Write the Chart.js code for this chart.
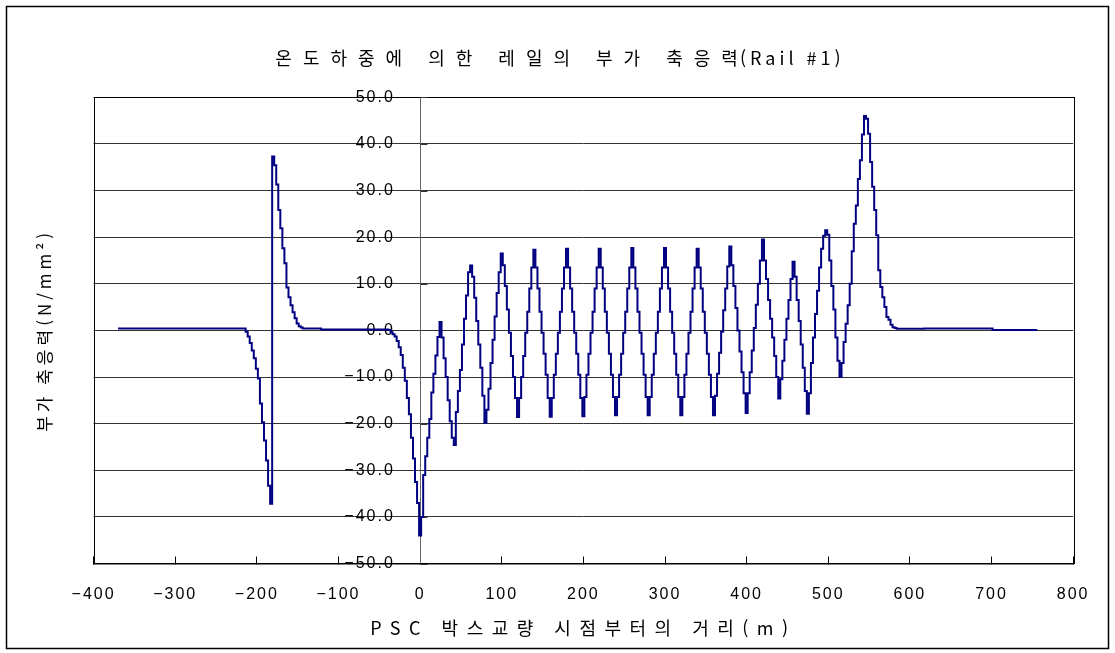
<!DOCTYPE html>
<html lang="ko">
<head>
<meta charset="utf-8">
<title>온도하중에 의한 레일의 부가 축응력(Rail #1)</title>
<script src="https://cdn.jsdelivr.net/npm/chart.js@4.4.1/dist/chart.umd.min.js"></script>
<style>
  html, body { margin: 0; padding: 0; background: #fff; }
  #wrap { position: relative; width: 1115px; height: 653px; }
</style>
</head>
<body>
<div id="wrap"><canvas id="chart" width="1115" height="653"></canvas></div>
<script>
const CHART_TITLE = '온도하중에 의한 레일의 부가 축응력(Rail #1)';
const X_TITLE = 'PSC 박스교량 시점부터의 거리(m)';
const Y_TITLE = '부가 축응력(N/mm²)';

// distance from the start of the PSC box bridge (m)
const distanceM = [
  -370, -300, -250, -215,
  -212.5, -210, -207.5, -205, -202.5, -200, -197.5, -195, -192.5, -190, -187.5, -185, -182.5,
  -180, -177.5, -175, -172.5, -170, -167.5, -165, -162.5, -160, -157.5, -155, -152.5, -150, -147.5, -145, -142.5,
  -100, -40,
  -37.5, -35, -32.5, -30, -27.5, -25, -22.5, -20, -17.5, -15, -12.5, -10, -7.5, -5, -2.5,
  0, 2.5, 5, 7.5, 10, 12.5, 15, 17.5, 20, 22.5, 25, 27.5, 30, 32.5, 35, 37.5,
  40, 42.5, 45, 47.5, 50, 52.5, 55, 57.5, 60, 62.5, 65, 67.5, 70, 72.5, 75, 77.5,
  80, 82.5, 85, 87.5, 90, 92.5, 95, 97.5, 100, 102.5, 105, 107.5, 110, 112.5, 115, 117.5,
  120, 122.5, 125, 127.5, 130, 132.5, 135, 137.5, 140, 142.5, 145, 147.5, 150, 152.5, 155, 157.5,
  160, 162.5, 165, 167.5, 170, 172.5, 175, 177.5, 180, 182.5, 185, 187.5, 190, 192.5, 195, 197.5,
  200, 202.5, 205, 207.5, 210, 212.5, 215, 217.5, 220, 222.5, 225, 227.5, 230, 232.5, 235, 237.5,
  240, 242.5, 245, 247.5, 250, 252.5, 255, 257.5, 260, 262.5, 265, 267.5, 270, 272.5, 275, 277.5,
  280, 282.5, 285, 287.5, 290, 292.5, 295, 297.5, 300, 302.5, 305, 307.5, 310, 312.5, 315, 317.5,
  320, 322.5, 325, 327.5, 330, 332.5, 335, 337.5, 340, 342.5, 345, 347.5, 350, 352.5, 355, 357.5,
  360, 362.5, 365, 367.5, 370, 372.5, 375, 377.5, 380, 382.5, 385, 387.5, 390, 392.5, 395, 397.5,
  400, 402.5, 405, 407.5, 410, 412.5, 415, 417.5, 420, 422.5, 425, 427.5, 430, 432.5, 435, 437.5,
  440, 442.5, 445, 447.5, 450, 452.5, 455, 457.5, 460, 462.5, 465, 467.5, 470, 472.5, 475, 477.5,
  480, 482.5, 485, 487.5, 490, 492.5, 495, 497.5, 500, 502.5, 505, 507.5, 510, 512.5, 515, 517.5,
  520, 522.5, 525, 527.5, 530, 532.5, 535, 537.5, 540, 542.5, 545, 547.5, 550, 552.5, 555, 557.5,
  560, 562.5, 565, 567.5, 570, 572.5, 575, 577.5, 580, 582.5, 585,
  650, 700, 702.5, 756
];

// additional axial stress in the rail (N/mm2), same order as distanceM
const stressNmm2 = [
  0.4, 0.4, 0.4, 0.4,
  -0.3, -1.3, -2.7, -4.3, -6, -8.2, -10.3, -15.7, -19.7, -23.6, -27.9, -33.3, -37.2,
  37.3, 35.4, 31.3, 25.8, 21.9, 17.6, 14.4, 9.2, 7.1, 5.4, 3.9, 2.6, 1.5, 0.9, 0.6, 0.4,
  0.2, 0.2,
  0.1, -0.4, -0.8, -1.3, -2.3, -3.6, -5.3, -8, -10.8, -14.5, -18, -23, -27.5, -32.5, -37,
  -44, -40, -31, -27, -23, -19, -13.3, -9.3, -5.4, -1.4, 1.8, -1.5, -6, -10, -15, -19.5,
  -23, -24.6, -17.5, -13, -8.5, -3, 2.5, 7.5, 12.5, 13.9, 11.5, 7, 2, -3, -8, -14,
  -19.8, -17, -12.5, -7, -2, 3, 8, 12.5, 16.5, 14, 9.5, 4.5, -0.5, -5.5, -10, -14.5,
  -18.6, -14.5, -10, -5.5, -0.5, 4, 9, 13.5, 17.3, 13.5, 9, 4, -0.5, -5, -9.5, -14.5,
  -18.5, -14.5, -9.5, -5, -0.5, 4, 9, 13.5, 17.5, 13.5, 9, 4, -0.5, -5, -9.5, -14.5,
  -18.4, -14.3, -9.5, -5, -0.5, 4, 9, 13.5, 17.5, 13.5, 9, 4, -0.5, -5, -9.5, -14.3,
  -18.2, -14.3, -9.5, -5, -0.5, 4, 9, 13.5, 17.7, 13.5, 9, 4, -0.5, -5, -9.5, -14.3,
  -18.2, -14.3, -9.5, -5, -0.5, 4, 9, 13.5, 17.7, 13.5, 9, 4, -0.5, -5, -9.5, -14.3,
  -18.2, -14.3, -9.5, -5, -0.5, 4, 9, 13.5, 17.5, 13.5, 9, 4, -0.5, -5, -9.5, -14.3,
  -18.2, -14, -9.3, -4.8, -0.3, 4.3, 9, 13.7, 18, 14, 9.5, 4.8, 0, -4.5, -9, -13.5,
  -17.7, -13.5, -9, -4.3, 0.5, 5.5, 10, 15, 19.5, 15, 11, 6.5, 2.5, -1.5, -5.5, -10,
  -14.6, -10.5, -6.5, -2, 2.5, 6.5, 11, 14.7, 11.5, 6.5, 2, -3, -8, -13, -17.9, -13.5,
  -7, -1.5, 3.5, 8.5, 13.5, 17.5, 20.3, 21.5, 20.5, 15, 9.5, 4.5, -1.5, -6.5, -10, -7,
  -2.5, 1.4, 5.4, 10, 17, 22.9, 26.8, 32.5, 36.5, 42, 46, 45.4, 42.2, 36.1, 30.8, 25.8,
  20.4, 12.9, 9.3, 7.1, 5, 2.9, 2.3, 1.2, 0.7, 0.5, 0.35,
  0.4, 0.4, 0.1, 0.1
];

const xRange = [-400, 800];
const yRange = [-50, 50];
const Y_LABEL_AT = -31;   // y tick labels sit a little left of the x = 0 axis line

if (distanceM.length !== stressNmm2.length) {
  console.warn('length mismatch', distanceM.length, stressNmm2.length);
}

const points = distanceM.map((d, i) => ({ x: d, y: stressNmm2[i] }));

const TITLE_FONT = { family: "'Noto Sans CJK KR', 'Noto Sans'", size: 18, weight: 'normal', lineHeight: 1.2 };
const TITLE_PAD = { top: 37, bottom: 28.7 };

// minus sign like the original (long dash)
function fmtTick(v, digits) {
  const s = Math.abs(v).toFixed(digits);
  return v < 0 ? '\u2212' + s : s;
}

// canvas letterSpacing for the spaced-out axis titles
function wrapSpacing(obj, fn, ctx, spacing) {
  if (!obj || obj['_sp_' + fn]) return;
  const orig = obj[fn].bind(obj);
  obj[fn] = function (...args) {
    const prev = ctx.letterSpacing;
    ctx.letterSpacing = spacing;
    orig(...args);
    ctx.letterSpacing = prev;
  };
  obj['_sp_' + fn] = true;
}

// main title: hangul spaced wide, latin part a bit tighter
function drawMainTitle(chart) {
  const ctx = chart.ctx;
  const tb = chart.titleBlock;
  const cy = tb.top + TITLE_PAD.top + TITLE_FONT.size * TITLE_FONT.lineHeight / 2;
  const cx = chart.width / 2;
  const runs = CHART_TITLE.match(/[\uAC00-\uD7A3]+(?: [\uAC00-\uD7A3]+)*|[^\uAC00-\uD7A3]+/g);
  ctx.save();
  ctx.font = `${TITLE_FONT.size}px ${TITLE_FONT.family}`;
  ctx.fillStyle = '#000';
  ctx.textBaseline = 'middle';
  ctx.textAlign = 'left';
  const parts = runs.map((r, i) => {
    const hangul = /[\uAC00-\uD7A3]/.test(r);
    const sp = hangul ? 11 : 4;
    ctx.letterSpacing = '0px';
    // no extra gap after the last glyph of a run
    const w = ctx.measureText(r).width + sp * ([...r].length - 1) + (i < runs.length - 1 ? 2 : 0);
    return { r, sp, w };
  });
  const total = parts.reduce((s, p) => s + p.w, 0);
  let x = cx - total / 2;
  parts.forEach(p => {
    ctx.letterSpacing = p.sp + 'px';
    ctx.fillText(p.r, x, cy);
    x += p.w;
  });
  ctx.restore();
}

const framePlugin = {
  id: 'frame',
  beforeDraw(chart) {
    const ctx = chart.ctx;
    ctx.save();
    ctx.fillStyle = '#fff';
    ctx.fillRect(0, 0, chart.width, chart.height);
    ctx.strokeStyle = '#000';
    ctx.lineWidth = 1.5;
    ctx.strokeRect(6.5, 6.5, 1102, 642);
    ctx.restore();
    ctx.letterSpacing = '2px';
    const tb = chart.titleBlock;
    if (tb && !tb._custom) {
      tb.draw = () => drawMainTitle(chart);
      tb._custom = true;
    }
    wrapSpacing(chart.scales.x, 'drawTitle', ctx, '8.5px');
    wrapSpacing(chart.scales.yTitle, 'drawTitle', ctx, '4px');
  },
  beforeDatasetsDraw(chart) {
    const { ctx, chartArea: a, scales } = chart;
    ctx.save();
    ctx.strokeStyle = '#000';
    ctx.lineWidth = 1;
    ctx.strokeRect(Math.round(a.left) + 0.5, Math.round(a.top) + 0.5,
      Math.round(a.right - a.left), Math.round(a.bottom - a.top));
    // vertical axis line at x = 0 with short ticks to the right
    const x0 = Math.round(scales.x.getPixelForValue(0)) + 0.5;
    ctx.strokeStyle = '#666';
    ctx.beginPath();
    ctx.moveTo(x0, a.top);
    ctx.lineTo(x0, a.bottom);
    ctx.stroke();
    ctx.strokeStyle = '#333';
    ctx.beginPath();
    scales.y.ticks.forEach(t => {
      const y = Math.round(scales.y.getPixelForValue(t.value)) + 0.5;
      ctx.moveTo(x0, y);
      ctx.lineTo(x0 + 7, y);
    });
    ctx.stroke();
    ctx.restore();
  }
};

new Chart(document.getElementById('chart'), {
  type: 'line',
  data: {
    datasets: [{
      data: points,
      xAxisID: 'x',
      yAxisID: 'y',
      borderColor: '#000080',
      borderWidth: 2,
      pointRadius: 0,
      stepped: 'middle',
      fill: false
    }]
  },
  options: {
    responsive: false,
    animation: false,
    events: [],
    layout: { padding: { top: 10, left: 6, right: 38, bottom: 0 } },
    plugins: {
      legend: { display: false },
      tooltip: { enabled: false },
      title: {
        display: true,
        text: CHART_TITLE,
        color: '#000',
        font: TITLE_FONT,
        padding: TITLE_PAD
      }
    },
    scales: {
      x: {
        type: 'linear',
        position: 'bottom',
        min: xRange[0],
        max: xRange[1],
        ticks: {
          stepSize: 100,
          autoSkip: false,
          maxRotation: 0,
          padding: 28.5,
          color: '#000',
          font: { family: "'Liberation Sans', Arial", size: 16, lineHeight: 1.2 },
          callback: (v) => fmtTick(v, 0)
        },
        grid: { drawOnChartArea: false, drawTicks: true, tickLength: -7, color: '#000', lineWidth: 1 },
        border: { display: true, color: '#000', width: 1.5 },
        title: {
          display: true,
          text: X_TITLE,
          color: '#000',
          font: { family: "'Noto Sans CJK KR', 'Noto Sans'", size: 18, lineHeight: 1.2 },
          padding: { top: -15.5, bottom: 14.2 }
        }
      },
      y: {
        type: 'linear',
        position: { x: Y_LABEL_AT },
        min: yRange[0],
        max: yRange[1],
        ticks: {
          stepSize: 10,
          padding: 0,
          color: '#000',
          font: { family: "'Liberation Sans', Arial", size: 16, lineHeight: 1.2 },
          callback: (v) => fmtTick(v, 1)
        },
        grid: { color: '#333', lineWidth: 1, drawTicks: false },
        border: { display: false }
      },
      yTitle: {
        type: 'linear',
        position: 'left',
        min: yRange[0],
        max: yRange[1],
        ticks: { display: false },
        grid: { display: false, drawTicks: false },
        border: { display: false },
        title: {
          display: true,
          text: Y_TITLE,
          color: '#000',
          font: { family: "'Noto Sans CJK KR', 'Noto Sans'", size: 17, lineHeight: 1.2 },
          padding: { top: 28.8, bottom: 38.4 }
        }
      }
    }
  },
  plugins: [framePlugin]
});
</script>
</body>
</html>
